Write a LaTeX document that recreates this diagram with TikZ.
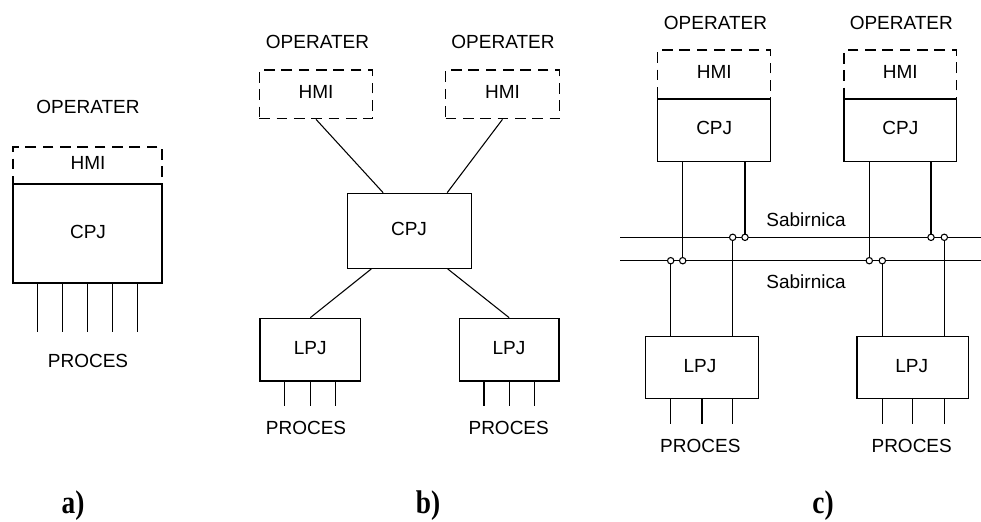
\documentclass[tikz,border=0pt]{standalone}
\usepackage{fontspec}
\setmainfont{Liberation Sans}
\newfontfamily\labfont{Liberation Serif}
\usetikzlibrary{fit,calc}
\begin{document}
\begin{tikzpicture}[x=0.75pt,y=-0.75pt,
  every node/.style={font=\fontsize{14.25}{17}\selectfont},
  box/.style={draw, line width=0.95pt, inner sep=0pt},
  hmibox/.style={draw, dash pattern=on 8pt off 5pt, line width=0.95pt, inner sep=0pt},
  wire/.style={line width=0.95pt},
  link/.style={line width=0.8pt},
  junc/.style={circle, draw, fill=white, inner sep=0pt, minimum size=4.8pt, line width=0.8pt},
  txt/.style={inner sep=0pt},
  sub/.style={font=\labfont\bfseries\fontsize{20.5}{24}\selectfont, inner sep=0pt}]
\useasboundingbox (0,0) rectangle (981,521);
% ---------- a ----------
\node[txt] (opa) at (88,107) {OPERATER};
\node[hmibox, fit={(13,147)(162,184)}] (hmia) {};
\node[box, fit={(13,184)(162,283)}] (cpja) {};
\node[txt] (thmia) at (88,162.5) {HMI};
\node[txt] (tcpja) at (88,232) {CPJ};
\foreach \i in {1,...,5}
  \draw[wire] ($(cpja.south west)!\i/6!(cpja.south east)$) -- ++(0,48);
\node[txt] (proca) at (88,361) {PROCES};
\node[sub] (laba) at (73,506) {\scalebox{1}[1.2]{a)}};
% ---------- b ----------
\node[txt] (opb1) at (317.5,42) {OPERATER};
\node[txt] (opb2) at (503,42) {OPERATER};
\node[hmibox, fit={(259.3,70)(372.7,118.7)}] (hmib1) {};
\node[hmibox, fit={(445.7,70)(559.3,118.7)}] (hmib2) {};
\node[txt] (thmib1) at (316,91.7) {HMI};
\node[txt] (thmib2) at (502.5,91.7) {HMI};
\node[box, fit={(347.3,193.3)(471.7,268.3)}] (cpjb) {};
\node[txt] (tcpjb) at (409,229.3) {CPJ};
\node[box, fit={(260,318.3)(360.7,381)}] (lpjb1) {};
\node[box, fit={(459.3,318.3)(559,381)}] (lpjb2) {};
\node[txt] (tlpjb1) at (310.3,348.3) {LPJ};
\node[txt] (tlpjb2) at (509,348.3) {LPJ};
\draw[link] (hmib1.south) -- ($(cpjb.north west)!0.29!(cpjb.north east)$);
\draw[link] (hmib2.south) -- ($(cpjb.north west)!0.80!(cpjb.north east)$);
\draw[link] ($(cpjb.south west)!0.196!(cpjb.south east)$) -- (lpjb1.north);
\draw[link] ($(cpjb.south west)!0.804!(cpjb.south east)$) -- (lpjb2.north);
\foreach \i in {1,2,3} {
  \draw[wire] ($(lpjb1.south west)!\i/4!(lpjb1.south east)$) -- ++(0,24);
  \draw[wire] ($(lpjb2.south west)!\i/4!(lpjb2.south east)$) -- ++(0,24);
}
\node[txt] (procb1) at (306,428) {PROCES};
\node[txt] (procb2) at (508.7,428) {PROCES};
\node[sub] (labb) at (428,506) {\scalebox{1}[1.2]{b)}};
% ---------- c ----------
\node[txt] (opc1) at (715.5,23) {OPERATER};
\node[txt] (opc2) at (901.3,23) {OPERATER};
\node[hmibox, fit={(657.7,50)(770.7,99)}] (hmic1) {};
\node[box, fit={(657.7,99)(770.7,161.7)}] (cpjc1) {};
\node[hmibox, fit={(844,50)(956.7,99)}] (hmic2) {};
\node[box, fit={(844,99)(956.7,161.7)}] (cpjc2) {};
\node[txt] (thmic1) at (714.2,71.7) {HMI};
\node[txt] (tcpjc1) at (714.2,128.3) {CPJ};
\node[txt] (thmic2) at (900.3,71.7) {HMI};
\node[txt] (tcpjc2) at (900.3,128.3) {CPJ};
\coordinate (b1w) at (620,237.3);
\coordinate (b1e) at (981,237.3);
\coordinate (b2w) at (620,260.7);
\coordinate (b2e) at (981,260.7);
\draw[wire] (b1w) -- (b1e);
\draw[wire] (b2w) -- (b2e);
\node[txt] (sab1) at (806,219.3) {Sabirnica};
\node[txt] (sab2) at (806,281.7) {Sabirnica};
\node[box, fit={(645.7,336.7)(758.3,398.3)}] (lpjc1) {};
\node[box, fit={(857,336.7)(968.3,398.3)}] (lpjc2) {};
\node[txt] (tlpjc1) at (700,366) {LPJ};
\node[txt] (tlpjc2) at (911.7,366) {LPJ};
\node[junc] (j1) at (682.7,260.7) {};
\node[junc] (j2) at (670.7,260.7) {};
\node[junc] (j3) at (745,237.3) {};
\node[junc] (j4) at (732.7,237.3) {};
\node[junc] (j5) at (869.3,260.7) {};
\node[junc] (j6) at (882.3,260.7) {};
\node[junc] (j7) at (931,237.3) {};
\node[junc] (j8) at (944.3,237.3) {};
\draw[wire] (cpjc1.south -| j1) -- (j1);
\draw[wire] (cpjc1.south -| j3) -- (j3);
\draw[wire] (cpjc2.south -| j5) -- (j5);
\draw[wire] (cpjc2.south -| j7) -- (j7);
\draw[wire] (j2) -- (lpjc1.north -| j2);
\draw[wire] (j4) -- (lpjc1.north -| j4);
\draw[wire] (j6) -- (lpjc2.north -| j6);
\draw[wire] (j8) -- (lpjc2.north -| j8);
\draw[wire] (lpjc1.south -| j2) -- ++(0,25);
\draw[wire] (lpjc1.south) -- ++(0,25);
\draw[wire] (lpjc1.south -| j4) -- ++(0,25);
\draw[wire] (lpjc2.south -| j6) -- ++(0,25);
\draw[wire] (lpjc2.south) -- ++(0,25);
\draw[wire] (lpjc2.south -| j8) -- ++(0,25);
\node[txt] (procc1) at (700.3,445.7) {PROCES};
\node[txt] (procc2) at (911.7,445.7) {PROCES};
\node[sub] (labc) at (823,506) {\scalebox{1}[1.2]{c)}};
\end{tikzpicture}
\end{document}
